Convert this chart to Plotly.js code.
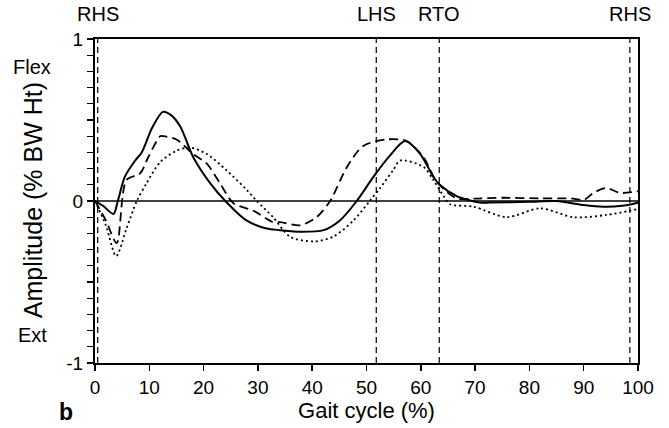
<!DOCTYPE html>
<html>
<head>
<meta charset="utf-8">
<script src="https://cdn.plot.ly/plotly-3.0.1.min.js"></script>
<style>html,body{margin:0;padding:0;background:#fff;}#chart{width:669px;height:428px;}</style>
</head>
<body>
<div id="chart"></div>
<script>
// Solid curve
const solidX = [0, 1.5, 3.4, 4.2, 5.5, 7.4, 8.6, 10.5, 12.5, 14, 15.7, 18.1, 21.2, 24.0, 27.9, 31.6, 34.1, 37.8, 42.1, 45.1, 48.2, 51.3, 54.3, 57.1, 59.9, 62.3, 63.5, 66.6, 70.9, 72.7, 80, 85, 90, 93.6, 97, 100];
const solidY = [0, -0.03, -0.08, 0.0, 0.15, 0.25, 0.30, 0.45, 0.55, 0.53, 0.46, 0.27, 0.11, 0.0, -0.12, -0.17, -0.18, -0.19, -0.18, -0.12, 0.0, 0.15, 0.28, 0.37, 0.29, 0.15, 0.10, 0.03, -0.01, -0.01, -0.005, 0.0, -0.025, -0.035, -0.03, -0.01];
// Dashed curve
const dashX = [0, 2, 4.0, 5.8, 8.3, 9.8, 12.0, 12.6, 15.0, 18.1, 20.6, 23.0, 25.5, 29.2, 32.8, 34.1, 37.8, 40.8, 43.3, 46.4, 49.4, 53.7, 57.4, 60.5, 62.9, 66.6, 70, 75, 82, 88, 90, 91.8, 94.2, 96.7, 100];
const dashY = [0, -0.12, -0.26, 0.13, 0.17, 0.27, 0.40, 0.40, 0.38, 0.29, 0.23, 0.11, -0.014, -0.06, -0.13, -0.13, -0.15, -0.10, 0.0, 0.21, 0.34, 0.38, 0.37, 0.27, 0.12, 0.016, 0.015, 0.02, 0.016, 0.015, 0.006, 0.05, 0.08, 0.05, 0.06];
// Dotted curve
const dotX = [0, 2, 3.9, 5.8, 7.7, 9.5, 12, 15.0, 17.5, 20.6, 24.2, 27.9, 29.8, 32.8, 35.9, 40.2, 43.9, 47.6, 50.6, 52.5, 54.9, 56.2, 60.5, 62.3, 64.2, 65.4, 69.7, 75.8, 82, 88.1, 94.2, 100];
const dotY = [0, -0.15, -0.34, -0.17, 0.0, 0.11, 0.24, 0.31, 0.33, 0.29, 0.19, 0.07, 0.0, -0.10, -0.22, -0.25, -0.22, -0.12, 0.0, 0.08, 0.19, 0.25, 0.21, 0.13, 0.03, -0.02, -0.035, -0.10, -0.045, -0.10, -0.086, -0.05];
// Event markers
const eventX = [0.5, 51.8, 63.4, 98.5];
const eventLabels = ["RHS", "LHS", "RTO", "RHS"];
// Tick labels
const xTicks = [0, 10, 20, 30, 40, 50, 60, 70, 80, 90, 100];
const yTickVals = [];
for (let i = -10; i <= 10; i++) yTickVals.push(i / 10);
const yTickText = yTickVals.map(v => (v === -1 ? "-1" : v === 0 ? "0" : v === 1 ? "1" : ""));

const F = "Liberation Sans, Arial, Helvetica, sans-serif";

const traces = [
  {x: solidX, y: solidY, mode: "lines", line: {color: "#000", width: 2, shape: "spline", smoothing: 0.8}},
  {x: dashX, y: dashY, mode: "lines", line: {color: "#000", width: 1.8, dash: "9px,5px", shape: "spline", smoothing: 0.8}},
  {x: dotX, y: dotY, mode: "lines", line: {color: "#000", width: 1.8, dash: "2px,3px", shape: "spline", smoothing: 0.8}}
];

const shapes = [
  {type: "line", xref: "x", yref: "y", x0: 0, x1: 100, y0: 0, y1: 0, line: {color: "#000", width: 1.3}}
];
eventX.forEach(ex => shapes.push({type: "line", xref: "x", yref: "paper", x0: ex, x1: ex, y0: 0, y1: 1, line: {color: "#000", width: 1.2, dash: "6px,4px"}}));

const layout = {
  width: 669, height: 428,
  margin: {l: 95, r: 31, t: 39, b: 65},
  paper_bgcolor: "#fff", plot_bgcolor: "#fff",
  showlegend: false,
  font: {family: F, size: 19, color: "#000"},
  xaxis: {
    range: [0, 100], tickvals: xTicks, ticktext: xTicks.map(String),
    ticks: "outside", ticklen: 6, tickwidth: 1.5, tickcolor: "#000",
    showline: true, linecolor: "#000", linewidth: 2, mirror: true,
    showgrid: false, zeroline: false,
    tickfont: {family: F, size: 19, color: "#000"},
    title: {text: "Gait cycle (%)", font: {family: F, size: 22, color: "#000"}, standoff: 4}
  },
  yaxis: {
    range: [-1, 1], tickvals: yTickVals, ticktext: yTickText,
    ticks: "outside", ticklen: 6, tickwidth: 1.2, tickcolor: "#000",
    showline: true, linecolor: "#000", linewidth: 2, mirror: true,
    showgrid: false, zeroline: false,
    tickfont: {family: F, size: 19, color: "#000"},
    title: {text: ""}
  },
  shapes: shapes,
  annotations: [
    ...eventX.map((ex, i) => ({
      x: ex, xref: "x", y: 1, yref: "paper", yshift: 25, yanchor: "middle", text: eventLabels[i], showarrow: false,
      font: {family: F, size: 20, color: "#000"}
    })),
    {x: -0.114, xref: "paper", xanchor: "center", y: 0.503, yref: "paper", yanchor: "middle", textangle: -90, text: "Amplitude (% BW Ht)", showarrow: false, font: {family: F, size: 25, color: "#000"}},
    {x: -0.116, xref: "paper", xanchor: "center", y: 0.914, yref: "paper", yanchor: "middle", text: "Flex", showarrow: false, font: {family: F, size: 20, color: "#000"}},
    {x: -0.116, xref: "paper", xanchor: "center", y: 0.086, yref: "paper", yanchor: "middle", text: "Ext", showarrow: false, font: {family: F, size: 20, color: "#000"}},
    {x: -0.053, xref: "paper", xanchor: "center", y: -0.152, yref: "paper", yanchor: "middle", text: "<b>b</b>", showarrow: false, font: {family: F, size: 23, color: "#000"}}
  ]
};

Plotly.newPlot("chart", traces, layout, {displayModeBar: false, staticPlot: true});
</script>
</body>
</html>
